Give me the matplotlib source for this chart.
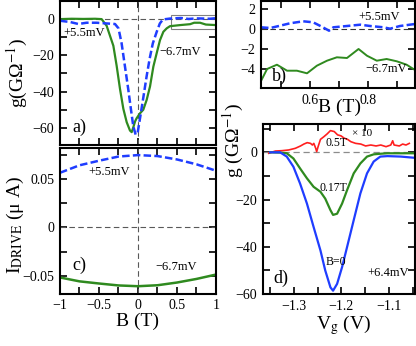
import matplotlib
matplotlib.use("Agg")
import matplotlib.pyplot as plt
from matplotlib.ticker import MultipleLocator
from matplotlib.patches import Rectangle

plt.rcParams['font.family'] = ['Liberation Serif', 'DejaVu Serif']
plt.rcParams['mathtext.fontset'] = 'stix'
plt.rcParams['axes.unicode_minus'] = True

# panel a: g vs B (two drive voltages)
a_B_pos = [-1.0, -0.87, -0.765, -0.66, -0.53, -0.40, -0.295, -0.25, -0.21, -0.167,
           -0.124, -0.09, -0.06, -0.03, -0.005, 0.026, 0.07, 0.11, 0.15, 0.19,
           0.24, 0.28, 0.32, 0.41, 0.55, 0.65, 0.75, 0.85, 0.92, 1.0]
a_g_pos = [-0.9, -1.6, -2.7, -2.0, -2.0, -2.4, -2.7, -5.1, -13.4, -26.2,
           -39.0, -50.0, -59.3, -63.8, -62.9, -54.7, -42.8, -31.7, -21.7, -13.4,
           -7.0, -2.4, -0.2, 0.3, 0.6, 0.1, 0.4, 0.3, 0.2, 0.5]
a_B_neg = [-1.0, -0.85, -0.7, -0.55, -0.466, -0.402, -0.316, -0.274, -0.231, -0.188,
           -0.145, -0.103, -0.081, -0.06, -0.038, -0.017, 0.026, 0.068, 0.111, 0.154,
           0.197, 0.239, 0.282, 0.325, 0.368, 0.41, 0.54, 0.667, 0.72, 0.795, 0.87, 1.0]
a_g_neg = [0.0, 0.2, 0.1, 0.2, 0.0, -3.7, -14.7, -25.7, -38.5, -49.5,
           -56.9, -61.5, -62.4, -59.7, -56.5, -54.7, -52.0, -50.0, -44.6, -37.2,
           -26.2, -18.9, -11.6, -7.0, -5.1, -3.9, -3.3, -2.8, -2.0, -2.0, -3.0, -3.3]

# panel b: zoom of the high-field region
b_B_pos = [0.430, 0.462, 0.496, 0.530, 0.576, 0.610, 0.640, 0.665, 0.680, 0.727,
           0.773, 0.807, 0.853, 0.876, 0.910, 0.962]
b_g_pos = [0.17, 0.10, 0.33, 0.57, 0.77, 0.67, 0.23, -0.17, 0.17, 0.30,
           0.43, 0.30, 0.17, 0.03, 0.30, 0.50]
b_B_neg = [0.430, 0.451, 0.485, 0.520, 0.554, 0.589, 0.623, 0.658, 0.692, 0.727,
           0.767, 0.796, 0.830, 0.864, 0.899, 0.933, 0.962]
b_g_neg = [-5.2, -4.0, -3.57, -4.17, -4.17, -4.43, -3.67, -3.17, -2.83, -2.9,
           -2.0, -2.67, -3.17, -3.0, -3.23, -3.57, -4.1]

# panel c: drive current vs B
c_B = [-1.0, -0.75, -0.5, -0.25, 0.0, 0.25, 0.5, 0.75, 1.0]
c_I_pos = [0.0563, 0.0640, 0.0687, 0.0730, 0.0745, 0.0735, 0.0700, 0.0650, 0.0584]
c_I_neg = [-0.0515, -0.0555, -0.0577, -0.0597, -0.0605, -0.0595, -0.0567, -0.0530, -0.0485]

# panel d: g vs gate voltage
d_V = [-1.350, -1.329, -1.315, -1.301, -1.287, -1.2725, -1.2585, -1.244, -1.234, -1.223,
       -1.2175, -1.209, -1.1985, -1.188, -1.174, -1.160, -1.146, -1.132, -1.118, -1.103,
       -1.075, -1.047]
d_g_B0 = [0.0, 0.0, -1.8, -6.1, -13.2, -21.7, -31.6, -41.6, -50.0, -57.2,
          -58.6, -55.7, -48.6, -40.1, -28.7, -17.4, -8.9, -3.9, -1.8, -1.6,
          -1.8, -2.3]
d_g_B017 = [0.0, -0.1, -0.4, -2.6, -6.8, -11.0, -14.6, -16.7, -19.6, -24.5,
            -26.5, -26.0, -21.7, -16.0, -8.9, -4.7, -1.8, -0.85, -0.6, -0.4,
            -0.4, -0.4]
d_V_red = [-1.353, -1.339, -1.325, -1.311, -1.297, -1.286, -1.279, -1.272, -1.265, -1.261,
           -1.258, -1.254, -1.252, -1.249, -1.244, -1.237, -1.230, -1.223, -1.215, -1.208,
           -1.201, -1.194, -1.187, -1.180, -1.170, -1.159, -1.149, -1.138, -1.127, -1.117,
           -1.106, -1.096, -1.092, -1.089, -1.078, -1.071, -1.064, -1.057]
d_g_red = [-0.4, 0.55, 0.7, 1.0, 1.7, 2.7, 3.5, 4.1, 3.8, 3.1,
           3.8, 1.7, 0.3, 2.4, 5.5, 6.6, 7.8, 9.2, 8.8, 7.4,
           7.0, 6.0, 5.5, 4.5, 3.8, 3.5, 2.7, 3.1, 2.7, 3.1,
           2.4, 3.1, 4.9, 3.1, 2.7, 3.5, 3.1, 3.8]

green = '#2f8a1f'
blue = '#1f3dff'
red = '#ff1f1f'
dash = (0, (3, 1.3))
zero_ls = (0, (5, 3))

fig = plt.figure(figsize=(4.16, 3.46), dpi=100)
W, H = 416.0, 346.0


def add_ax(l, r, t, b):
    return fig.add_axes([l / W, (H - b) / H, (r - l) / W, (b - t) / H])


def style(ax):
    for s in ax.spines.values():
        s.set_linewidth(1.5)
    ax.tick_params(which='both', direction='in', top=True, right=True,
                   labelsize=10, pad=4, width=1.2)
    ax.tick_params(which='major', length=5)
    ax.tick_params(which='minor', length=5)


ax_a = add_ax(60, 216, 1, 145)
ax_b = add_ax(261, 415, 0.5, 88)
ax_c = add_ax(60, 216, 148, 293.5)
ax_d = add_ax(263, 415, 124, 294)

# a)
ax_a.axhline(0, color='0.35', ls=zero_ls, lw=0.8)
ax_a.axvline(0, color='0.35', ls=zero_ls, lw=0.8)
ax_a.plot(a_B_neg, a_g_neg, color=green, lw=1.6)
ax_a.plot(a_B_pos, a_g_pos, color=blue, lw=1.8, ls=dash)
ax_a.add_patch(Rectangle((0.42, -5.5), 0.58, 7.9, fill=False, ec='0.5', lw=0.8))
ax_a.set_xlim(-1, 1)
ax_a.set_ylim(-69.5, 10)
ax_a.xaxis.set_major_locator(MultipleLocator(0.5))
ax_a.xaxis.set_minor_locator(MultipleLocator(0.25))
ax_a.yaxis.set_major_locator(MultipleLocator(20))
ax_a.yaxis.set_minor_locator(MultipleLocator(10))
ax_a.tick_params(labelbottom=False)
ax_a.set_ylabel('g(G\u03a9$^{-1}$)', fontsize=14)
ax_a.yaxis.set_label_coords(-0.19, 0.5)
ax_a.text(0.02, 0.78, '+5.5mV', transform=ax_a.transAxes, fontsize=9, va='center')
ax_a.text(0.64, 0.646, '\u22126.7mV', transform=ax_a.transAxes, fontsize=9, va='center')
ax_a.text(0.077, 0.125, 'a)', transform=ax_a.transAxes, fontsize=13, va='center')
style(ax_a)

# b)
ax_b.axhline(0, color='0.2', ls=zero_ls, lw=0.8)
ax_b.plot(b_B_neg, b_g_neg, color=green, lw=1.4)
ax_b.plot(b_B_pos, b_g_pos, color=blue, lw=1.8, ls=dash)
ax_b.set_xlim(0.43, 0.962)
ax_b.set_ylim(-5.9, 2.85)
ax_b.xaxis.set_major_locator(MultipleLocator(0.2))
ax_b.xaxis.set_minor_locator(MultipleLocator(0.1))
ax_b.yaxis.set_major_locator(MultipleLocator(2))
ax_b.set_xlabel('B (T)', fontsize=14)
ax_b.xaxis.set_label_coords(0.51, -0.12)
ax_b.text(0.63, 0.81, '+5.5mV', transform=ax_b.transAxes, fontsize=9, va='center')
ax_b.text(0.675, 0.217, '\u22126.7mV', transform=ax_b.transAxes, fontsize=9, va='center')
ax_b.text(0.07, 0.13, 'b)', transform=ax_b.transAxes, fontsize=13, va='center')
style(ax_b)

# c)
ax_c.axhline(0, color='0.35', ls=zero_ls, lw=0.8)
ax_c.axvline(0, color='0.35', ls=zero_ls, lw=0.8)
ax_c.plot(c_B, c_I_neg, color=green, lw=1.8)
ax_c.plot(c_B, c_I_pos, color=blue, lw=1.8, ls=dash)
ax_c.set_xlim(-1, 1)
ax_c.set_ylim(-0.068, 0.0818)
ax_c.xaxis.set_major_locator(MultipleLocator(0.5))
ax_c.xaxis.set_minor_locator(MultipleLocator(0.25))
ax_c.yaxis.set_major_locator(MultipleLocator(0.05))
ax_c.yaxis.set_minor_locator(MultipleLocator(0.025))
ax_c.xaxis.set_major_formatter(plt.FuncFormatter(lambda v, p: ('%g' % v).replace('-', '\u2212')))
ax_c.yaxis.set_major_formatter(plt.FuncFormatter(lambda v, p: ('%g' % v).replace('-', '\u2212')))
ax_c.set_xlabel('B (T)', fontsize=14)
ax_c.xaxis.set_label_coords(0.5, -0.13)
ax_c.set_ylabel('I$_{\\rm DRIVE}$ (\u03bc A)', fontsize=14)
ax_c.yaxis.set_label_coords(-0.22, 0.47)
ax_c.text(0.18, 0.835, '+5.5mV', transform=ax_c.transAxes, fontsize=9, va='center')
ax_c.text(0.61, 0.18, '\u22126.7mV', transform=ax_c.transAxes, fontsize=9, va='center')
ax_c.text(0.077, 0.196, 'c)', transform=ax_c.transAxes, fontsize=13, va='center')
style(ax_c)

# d)
ax_d.axhline(0, color='0.55', ls=zero_ls, lw=0.9)
ax_d.plot(d_V_red, d_g_red, color=red, lw=1.2)
ax_d.plot(d_V, d_g_B017, color=green, lw=1.6)
ax_d.plot(d_V, d_g_B0, color=blue, lw=1.6)
ax_d.set_xlim(-1.365, -1.045)
ax_d.set_ylim(-60, 12)
ax_d.xaxis.set_major_locator(MultipleLocator(0.1))
ax_d.xaxis.set_minor_locator(MultipleLocator(0.05))
ax_d.yaxis.set_major_locator(MultipleLocator(20))
ax_d.yaxis.set_minor_locator(MultipleLocator(10))
ax_d.set_xlabel(r'V$_{\rm g}$ (V)', fontsize=14)
ax_d.xaxis.set_label_coords(0.53, -0.11)
ax_d.set_ylabel('g (G\u03a9$^{-1}$)', fontsize=14)
ax_d.yaxis.set_label_coords(-0.11, 0.9)
ax_d.text(0.586, 0.947, '\u00d7 10', transform=ax_d.transAxes, fontsize=8, va='center')
ax_d.text(0.408, 0.888, '0.5T', transform=ax_d.transAxes, fontsize=8.5, va='center')
ax_d.text(0.375, 0.624, '0.17T', transform=ax_d.transAxes, fontsize=8.5, va='center')
ax_d.text(0.414, 0.188, 'B=0', transform=ax_d.transAxes, fontsize=8.5, va='center')
ax_d.text(0.684, 0.124, '+6.4mV', transform=ax_d.transAxes, fontsize=9, va='center')
ax_d.text(0.066, 0.094, 'd)', transform=ax_d.transAxes, fontsize=13, va='center')
style(ax_d)

fig.savefig('out.png', dpi=100)
